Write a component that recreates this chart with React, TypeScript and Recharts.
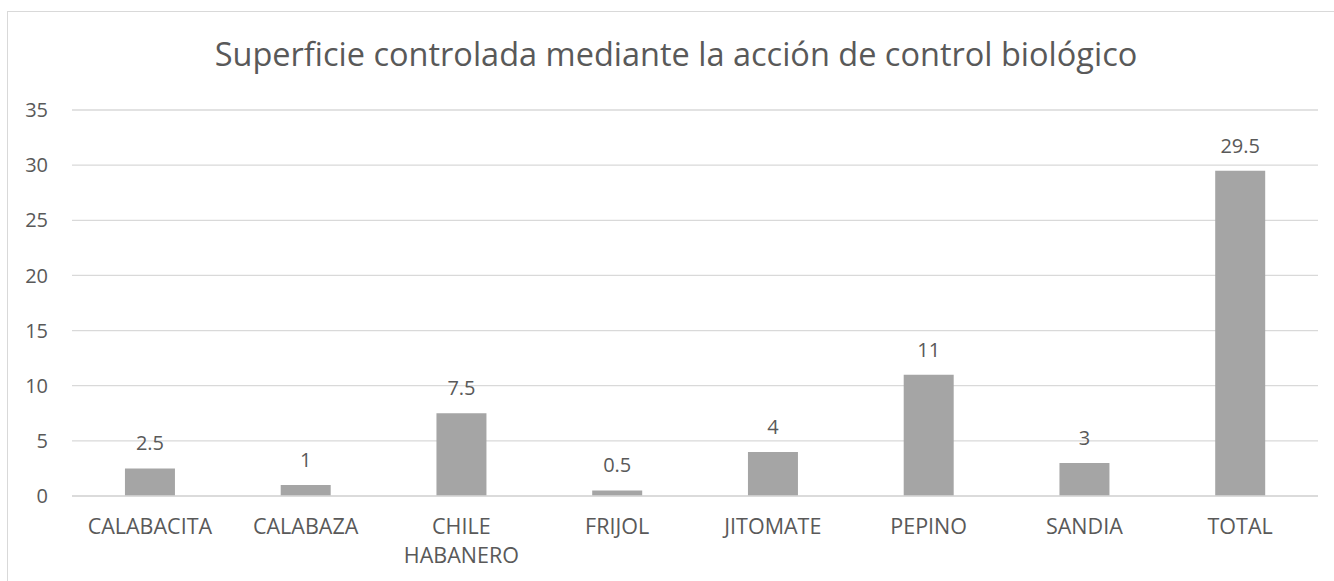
import React from "react";
import { BarChart, Bar, XAxis, YAxis, CartesianGrid, LabelList, Text } from "recharts";

const categories = ["CALABACITA", "CALABAZA", "CHILE HABANERO", "FRIJOL", "JITOMATE", "PEPINO", "SANDIA", "TOTAL"];
const values = [2.5, 1, 7.5, 0.5, 4, 11, 3, 29.5];
const yTicks = [0, 5, 10, 15, 20, 25, 30, 35];
const title = "Superficie controlada mediante la acción de control biológico";

const data = categories.map((c, i) => ({ name: c, value: values[i] }));

const FONT = "'Open Sans', sans-serif";
const TXT = "#595959";

const XTick = (props: any) => {
  const { x, y, payload } = props;
  return (
    <Text
      x={x}
      y={y + 23}
      width={130}
      lineHeight={29}
      textAnchor="middle"
      verticalAnchor="start"
      fill={TXT}
      fontSize={21.5}
      fontFamily={FONT}
    >
      {payload.value}
    </Text>
  );
};

export default function App() {
  return (
    <div style={{ position: "absolute", left: 0, top: 0, width: 1334, height: 581, overflow: "hidden" }}>
      <div
        style={{
          position: "absolute",
          left: 7,
          top: 11,
          width: 1327,
          height: 570,
          borderLeft: "1px solid #d9d9d9",
          borderTop: "1px solid #d9d9d9",
          boxSizing: "border-box",
        }}
      />
      <div
        style={{
          position: "absolute",
          left: 176,
          top: 34,
          width: 1000,
          textAlign: "center",
          fontFamily: FONT,
          fontSize: 32.5,
          lineHeight: "40px",
          color: TXT,
          whiteSpace: "nowrap",
        }}
      >
        {title}
      </div>
      <div style={{ position: "absolute", left: 0, top: 0 }}>
        <BarChart
          width={1334}
          height={581}
          data={data}
          margin={{ top: 110, right: 16, bottom: 0, left: 0 }}
          barCategoryGap="34%"
        >
          <CartesianGrid vertical={false} stroke="#d9d9d9" strokeWidth={1.3} />
          <XAxis
            dataKey="name"
            height={85}
            axisLine={{ stroke: "#d9d9d9", strokeWidth: 1.3 }}
            tickLine={false}
            tickSize={0}
            tickMargin={0}
            interval={0}
            tick={<XTick />}
          />
          <YAxis
            width={72}
            domain={[0, 35]}
            ticks={yTicks}
            axisLine={false}
            tickLine={false}
            tickSize={0}
            tickMargin={24}
            tick={{ fill: TXT, fontSize: 20, fontFamily: FONT }}
          />
          <Bar dataKey="value" fill="#a5a5a5" isAnimationActive={false}>
            <LabelList
              dataKey="value"
              position="top"
              offset={18}
              fill={TXT}
              fontSize={20}
              fontFamily={FONT}
            />
          </Bar>
        </BarChart>
      </div>
    </div>
  );
}
